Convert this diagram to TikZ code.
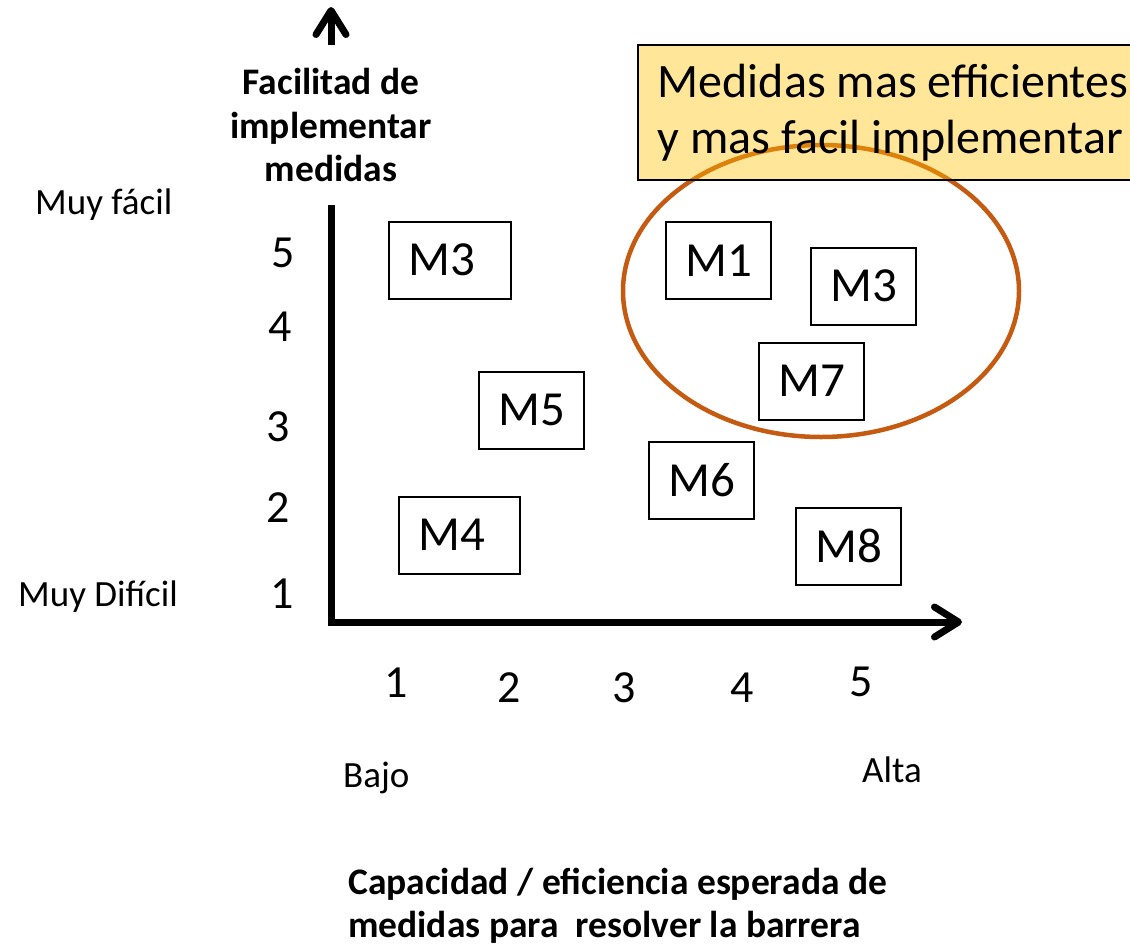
\documentclass[tikz,border=0pt]{standalone}
\usepackage{fontspec}
\setmainfont{Carlito}
\usetikzlibrary{arrows.meta}
\definecolor{ringcol}{HTML}{C55A11}
\definecolor{notefill}{HTML}{FFC000}
\begin{document}
\begin{tikzpicture}[x=1pt,y=-1pt,
  barb/.tip={Straight Barb[length=24pt,width=30pt,round]},
  axisline/.style={line width=7pt, barb-barb},
  mbox/.style={draw, line width=1.5pt, inner xsep=20pt, inner ysep=0pt,
    minimum height=77pt, text width=65pt, align=flush left, anchor=north west,
    font=\fontsize{49}{58}\selectfont},
  tick/.style={font=\fontsize{46}{52}\selectfont, inner sep=0pt},
  small/.style={font=\fontsize{37}{44}\selectfont, inner sep=0pt, anchor=base west},
  title/.style={font=\fontsize{37.5}{43.5}\selectfont\bfseries, inner sep=0pt},
]
\useasboundingbox (0,0) rectangle (1130,946);

% axes
\coordinate (ytip) at (331,7);
\coordinate (xtip) at (962,622);
\draw[axisline] (ytip) |- (xtip);

% y-axis title (white box over the axis)
\node[title, fill=white, align=flush center, minimum height=160pt, text width=215pt] (ytitle) at (331,125)
  {Facilitad de\\implementar\\medidas};

% highlight ring
\draw[ringcol, line width=4.5pt] (821,291) ellipse [x radius=198pt, y radius=146pt];

% note box
\node[draw, line width=1.5pt, fill=notefill, fill opacity=0.4, text opacity=1, draw opacity=1,
  anchor=north west, inner xsep=20pt, inner ysep=0pt, minimum height=135pt, text width=480pt,
  align=flush left, font=\fontsize{48}{56}\selectfont] (note) at (637,44)
  {Medidas mas efficientes\\y mas facil implementar};

% measure boxes
\node[mbox, text width=82pt] (m3a) at (388,221) {M3};
\node[mbox] (m1) at (665,221) {M1};
\node[mbox] (m3b) at (810,247) {M3};
\node[mbox] (m7) at (758,342) {M7};
\node[mbox] (m5) at (478,371) {M5};
\node[mbox] (m6) at (648,441) {M6};
\node[mbox, text width=81pt] (m4) at (398,496) {M4};
\node[mbox] (m8) at (795,507) {M8};

% y ticks
\node[tick] (y5) at (283,253) {5};
\node[tick] (y4) at (280,327) {4};
\node[tick] (y3) at (278,427) {3};
\node[tick] (y2) at (278,508) {2};
\node[tick] (y1) at (282,594) {1};

% x ticks
\node[tick] (x1) at (396,683) {1};
\node[tick] (x2) at (509,688) {2};
\node[tick] (x3) at (624,688) {3};
\node[tick] (x4) at (742,688) {4};
\node[tick] (x5) at (861,682) {5};

% end labels
\node[small] (easy) at (35,214) {Muy fácil};
\node[small] (hard) at (18,606) {Muy Difícil};
\node[small] (low) at (343,787) {Bajo};
\node[small] (high) at (862,782) {Alta};

% x-axis title
\node[title, align=flush left, anchor=west] (xtitle) at (348,906)
  {Capacidad / eficiencia esperada de\\medidas para\ \ resolver la barrera};
\end{tikzpicture}
\end{document}
